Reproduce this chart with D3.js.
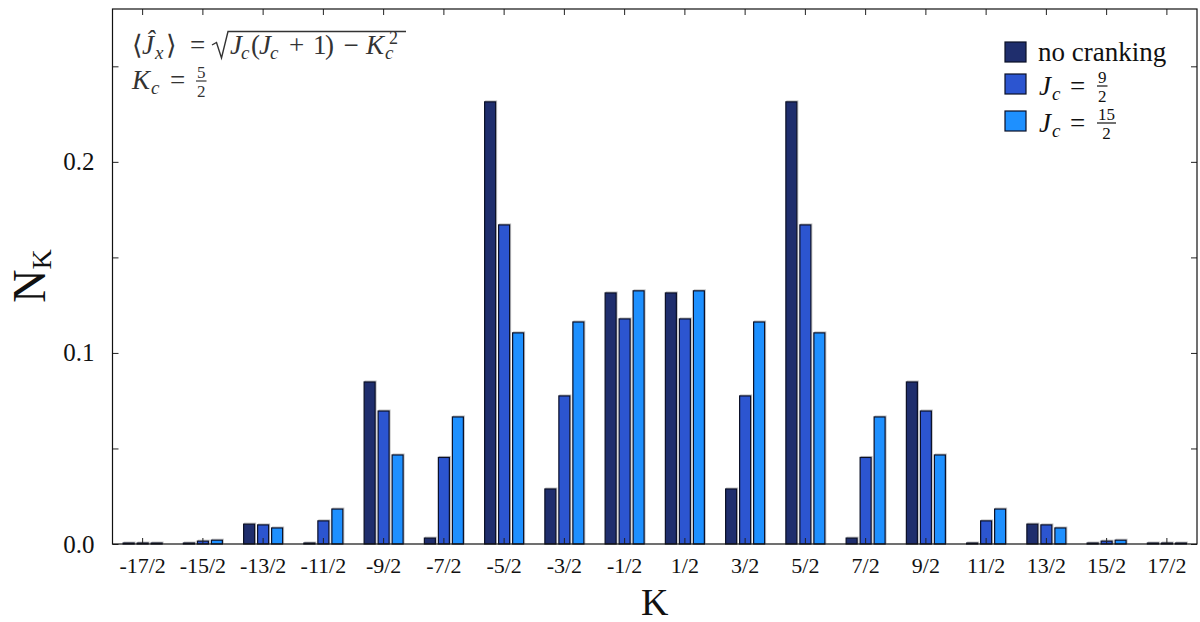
<!DOCTYPE html>
<html><head><meta charset="utf-8">
<script src="https://cdn.jsdelivr.net/npm/d3@7"></script>
<style>
body{margin:0;background:#fff;}
svg{display:block;}
text{font-family:"Liberation Serif","Times New Roman","DejaVu Serif",serif;}
</style></head>
<body><svg id="c" width="1200" height="622"></svg>
<script>
const categories = ["-17/2","-15/2","-13/2","-11/2","-9/2","-7/2","-5/2","-3/2","-1/2","1/2","3/2","5/2","7/2","9/2","11/2","13/2","15/2","17/2"];
const seriesNames = ["no cranking","Jc = 9/2","Jc = 15/2"];
const noCranking = [0.0005,0.0005,0.0104,0.0005,0.0848,0.0031,0.2314,0.0288,0.1314,0.1314,0.0288,0.2314,0.0031,0.0848,0.0005,0.0104,0.0005,0.0005];
const jc9half   = [0.0005,0.0015,0.0100,0.0121,0.0696,0.0453,0.1670,0.0775,0.1178,0.1178,0.0775,0.1670,0.0453,0.0696,0.0121,0.0100,0.0015,0.0005];
const jc15half  = [0.0005,0.0020,0.0084,0.0183,0.0466,0.0665,0.1105,0.1162,0.1325,0.1325,0.1162,0.1105,0.0665,0.0466,0.0183,0.0084,0.0020,0.0005];
const yTicks = [0,0.05,0.1,0.15,0.2,0.25];
const yLabelTicks = [0,0.1,0.2];
const colors = ["#1f2e6d","#2c55d0","#1e90ff"];

const series = [noCranking, jc9half, jc15half];
const svg = d3.select("#c");
const L=112.5, R=1197, T=9, B=544;
const x = d3.scaleBand().domain(categories).range([L,R]).paddingInner(0).paddingOuter(0);
const xs = d3.scaleBand().domain(d3.range(3)).range([-19.5,19.5]).paddingInner(3/14).paddingOuter(0);
const y = d3.scaleLinear().domain([0,0.28]).range([B,T]);

// bars
const g = svg.append("g");
series.forEach((vals,si)=>{
  const data = categories.map((c,i)=>({c,v:vals[i]}));
  g.selectAll(null).data(data).enter().append("rect")
    .attr("x",d=>x(d.c)+x.bandwidth()/2+xs(si)+1)
    .attr("y",d=>y(d.v)-1)
    .attr("width",xs.bandwidth())
    .attr("height",d=>Math.max(0,B-y(d.v)))
    .attr("fill","none").attr("stroke","#999").attr("stroke-width",1).attr("opacity",0.6);
  g.selectAll(null).data(data).enter().append("rect")
    .attr("x",d=>x(d.c)+x.bandwidth()/2+xs(si))
    .attr("y",d=>y(d.v))
    .attr("width",xs.bandwidth())
    .attr("height",d=>Math.max(0,B-y(d.v)))
    .attr("fill",colors[si]).attr("stroke","#0a0f26").attr("stroke-width",1.2);
});

// axes
const fmt = d3.format(".1f");
const yl = svg.append("g").attr("transform",`translate(${L},0)`)
  .call(d3.axisLeft(y).tickValues(yTicks).tickSize(-6).tickPadding(18)
    .tickFormat(d=>yLabelTicks.some(t=>Math.abs(t-d)<1e-9)?fmt(d):""));
const yr = svg.append("g").attr("transform",`translate(${R},0)`)
  .call(d3.axisRight(y).tickValues(yTicks).tickSize(-6).tickFormat(""));
const xb = svg.append("g").attr("transform",`translate(0,${B})`)
  .call(d3.axisBottom(x).tickSize(-6).tickPadding(13));
const xt = svg.append("g").attr("transform",`translate(0,${T})`)
  .call(d3.axisTop(x).tickSize(-6).tickFormat(""));
[yl,yr,xb,xt].forEach(a=>{
  a.attr("font-family",null);
  a.select(".domain").remove();
  a.selectAll(".tick line").attr("stroke","#222").attr("stroke-width",1);
  a.selectAll("text").attr("fill","#111");
});
yl.selectAll("text").style("font-size","25px");
xb.selectAll("text").style("font-size","22px");

// frame
svg.append("rect").attr("x",L).attr("y",T).attr("width",R-L).attr("height",B-T)
  .attr("fill","none").attr("stroke","#111").attr("stroke-width",1.2);

// axis titles
svg.append("text").attr("x",(L+R)/2).attr("y",615).attr("text-anchor","middle")
  .style("font-size","38px").attr("fill","#111").text("K");
const yt = svg.append("text").attr("transform","translate(45,276) rotate(-90)").attr("text-anchor","middle").attr("fill","#111");
yt.append("tspan").style("font-size","46px").text("N");
yt.append("tspan").style("font-size","28px").attr("dy",6).text("K");

// math helpers: glyph runs placed at given x
function place(parent, base, items){
  items.forEach(p=>{
    const sz = p.size||27;
    parent.append("text").attr("x",p.x).attr("y",base+(p.dy||0))
      .attr("text-anchor",p.mid?"middle":"start")
      .style("font-size",sz+"px").style("font-style",p.it?"italic":"normal").text(p.t);
  });
}
function frac(parent,xl,ybar,num,den,size,col){
  const a=parent.append("text").attr("y",ybar-3.5).attr("text-anchor","middle").style("font-size",size+"px").text(num);
  const b=parent.append("text").attr("y",ybar+16.2).attr("text-anchor","middle").style("font-size",size+"px").text(den);
  const w=Math.max(a.node().getComputedTextLength(),b.node().getComputedTextLength());
  const xc = xl + w/2 + 1;
  a.attr("x",xc); b.attr("x",xc);
  parent.append("line").attr("x1",xl).attr("x2",xl+w+2).attr("y1",ybar).attr("y2",ybar).attr("stroke",col).attr("stroke-width",1.2);
}

// annotation
const annCol = "#333";
const ann = svg.append("g").attr("fill",annCol);
place(ann,54,[
  {t:"⟨",x:132},{t:"Ĵ",x:142,it:1},{t:"x",x:155,it:1,size:19,dy:5},{t:"⟩",x:166},
  {t:"=",x:197.5,mid:1},
  {t:"J",x:230,it:1},{t:"c",x:241,it:1,size:19,dy:5},{t:"(",x:251},{t:"J",x:259,it:1},{t:"c",x:270,it:1,size:19,dy:5},
  {t:"+",x:296.5,mid:1},{t:"1",x:313},{t:")",x:325},{t:"−",x:351,mid:1},
  {t:"K",x:366,it:1},{t:"c",x:385,it:1,size:19,dy:5},{t:"2",x:389,size:18,dy:-10}
]);
ann.append("path").attr("d","M212,45 L216.5,42.5 L221.5,58 L228,31.5 L406,31.5")
  .attr("fill","none").attr("stroke",annCol).attr("stroke-width",1.4);
place(ann,89,[{t:"K",x:132,it:1},{t:"c",x:151,it:1,size:19,dy:5},{t:"=",x:177.5,mid:1}]);
frac(ann,196,81,"5","2",17,annCol);

// legend
const leg = svg.append("g").attr("fill","#111");
const ly = [42,74,111];
ly.forEach((yy,i)=>{
  leg.append("rect").attr("x",1005).attr("y",yy).attr("width",21).attr("height",20)
    .attr("fill",colors[i]).attr("stroke","#0a0f26").attr("stroke-width",1.2);
});
leg.append("text").attr("x",1038).attr("y",61).style("font-size","27px").text(seriesNames[0]);
[[1,"9",95,86],[2,"15",132,123]].forEach(([i,num,base,bar])=>{
  place(leg,base,[{t:"J",x:1039,it:1},{t:"c",x:1052,it:1,size:19,dy:5},{t:"=",x:1077.5,mid:1}]);
  frac(leg,1097,bar,num,"2",17,"#111");
});
</script></body></html>
